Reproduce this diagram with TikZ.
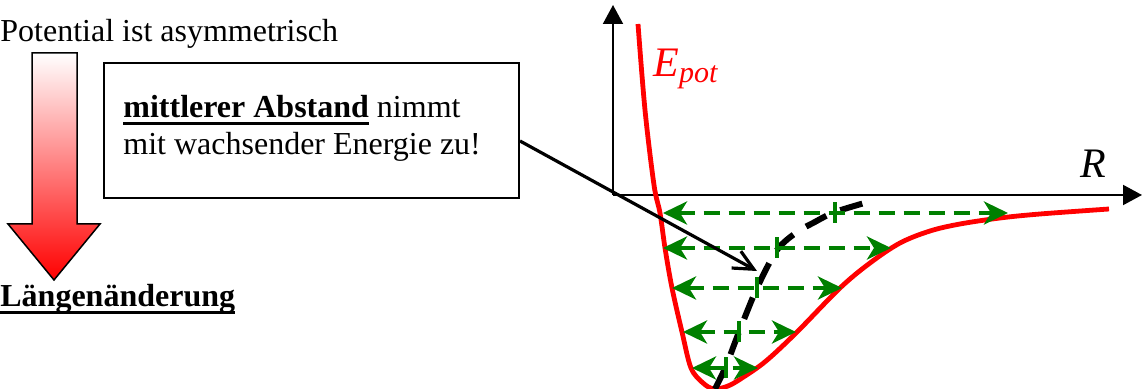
\documentclass[tikz,border=0pt]{standalone}
\usepackage{fontspec}
\setmainfont{Liberation Serif}
\usepackage{tikz}
\usetikzlibrary{arrows.meta,positioning,calc}

\definecolor{gruen}{RGB}{0,128,0}
\newcommand{\unterstrich}[1]{\setbox0\hbox{#1}\rlap{\rule[-3.5pt]{\wd0}{1.5pt}}\box0\relax}

\begin{document}
\begin{tikzpicture}[x=0.5pt, y=-0.5pt,
    achse/.style={black, line width=1pt, -{Triangle[length=9.5pt,width=10pt]}},
    potential/.style={red, line width=2.4pt},
    niveau/.style={gruen, line width=2pt, dash pattern=on 8pt off 4.5pt,
      {Stealth[length=12pt 0,width=11.5pt 0,inset=3.5pt 0]}-{Stealth[length=12pt 0,width=11.5pt 0,inset=3.5pt 0]}},
    mitte/.style={black, line width=3pt, dash pattern=on 11.5pt off 7.5pt},
    strich/.style={gruen, line width=1.6pt},
    zeiger/.style={black, line width=1.6pt, -{Straight Barb[length=10pt,width=9.6pt]}},
    schrift/.style={inner sep=0pt, font=\fontsize{16}{19}\selectfont}
  ]
  \useasboundingbox (0,0) rectangle (1142,389);

  % Texte links
  \node[schrift, anchor=base west] (titel) at (0,42) {Potential ist asymmetrisch};
  \node[schrift, anchor=base west] (laenge) at (0,307) {\unterstrich{\bfseries Längenänderung}};

  % Blockpfeil
  \shade[top color=white, bottom color=red, draw=black, line width=0.75pt]
    (32,53) -- (77,53) -- (77,224) -- (100,224) -- (54,280) -- (8,224) -- (32,224) -- cycle;

  % Kasten
  \node[draw, line width=1pt, anchor=north west, minimum width=207.5pt,
        minimum height=67.5pt, inner sep=0pt] (kasten) at (103,62) {};
  \node[schrift, anchor=base west] (zeile1) at (123,118) {\unterstrich{\bfseries mittlerer Abstand} nimmt};
  \node[schrift, anchor=base west] (zeile2) at (123,155) {mit wachsender Energie zu!};

  % Achsen
  \coordinate (O) at (613,195);
  \coordinate (yend) at (613,5);
  \coordinate (xend) at (1142,195);
  \draw[achse] (O) -- (yend);
  \draw[achse] (O) -- (xend);
  \node[inner sep=0pt, anchor=base west, font=\fontsize{21}{25}\selectfont\itshape] (rlabel) at (1080,178) {R};

  % Potentialkurve
  \draw[potential] plot[smooth, tension=0.55] coordinates {(638,24) (645,110) (654,185) (660,213)
    (665,248) (672,288) (682,332) (691,368) (703,383) (714,389) (728,386) (742,378) (766,361)
    (797,332) (840,288) (870,263) (900,243) (930,231) (960,224) (1000,218) (1040,214) (1109,209)};
  \node[inner sep=0pt, anchor=base west, red, font=\fontsize{21}{25}\selectfont\itshape] (epot) at (653,77)
    {E\raisebox{-3pt}{\fontsize{15}{15}\selectfont pot}};

  % mittlerer Abstand
  \draw[mitte] plot[smooth, tension=0.5] coordinates {(715,389) (726,366) (739,332) (757,288) (777,250)
    (797,232) (813,223) (835,212) (875,200)};

  % Schwingungsniveaus
  \foreach \n/\y/\xl/\xr/\xm in {1/213/663/1008/835, 2/248/663/891/777, 3/288/672/842/757,
                                 4/332/683/796/739, 5/368/692/758/726}{
    \coordinate (l\n) at (\xl,\y);
    \coordinate (r\n) at (\xr,\y);
    \coordinate (m\n) at (\xm,\y);
    \draw[niveau] (l\n) -- (r\n);
    \draw[strich] ([yshift=5.25pt]m\n) -- ([yshift=-5.25pt]m\n);
  }

  % Zeiger
  \coordinate (ziel) at (757,271);
  \draw[zeiger] ([yshift=-5.25pt]kasten.east) -- (ziel);
\end{tikzpicture}
\end{document}
